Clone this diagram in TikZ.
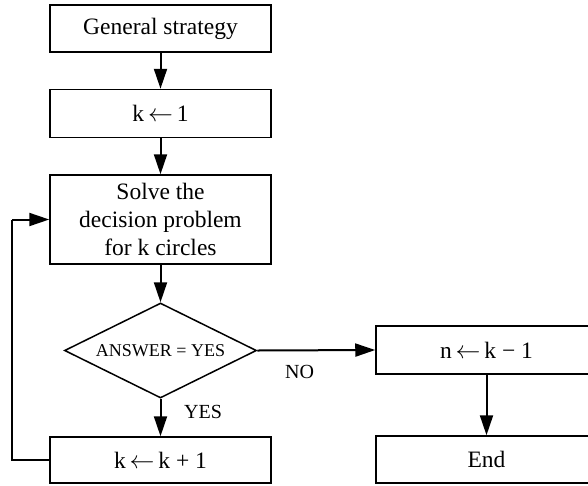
\documentclass[tikz,border=0pt]{standalone}
\usepackage{fontspec}
\setmainfont{Liberation Serif}
\usetikzlibrary{shapes.geometric,arrows.meta}
\tikzset{
  box/.style={draw, line width=1.5pt, minimum width=221pt, inner sep=0pt, align=center,
    font=\fontsize{23.5}{28}\selectfont},
  dec/.style={draw, diamond, line width=1.5pt, aspect=2.02, minimum width=192pt, minimum height=95pt,
    inner sep=0pt, font=\fontsize{18}{21}\selectfont},
  conn/.style={line width=2pt, -{Triangle[length=20pt,width=13pt]}},
  loopline/.style={line width=2pt},
  lbl/.style={font=\fontsize{20}{24}\selectfont, inner sep=0pt}
}
\begin{document}
\begin{tikzpicture}[x=1pt,y=-1pt]
\useasboundingbox (0,0) rectangle (588,485);
\clip (0,0) rectangle (588,485);
\node[box, minimum height=47pt] (b1) at (160.5,28.5) {General strategy};
\node[box, minimum height=48pt] (b2) at (160.5,113.5) {k\,$\leftarrow$\,1};
\node[box, minimum height=89pt] (b3) at (160.5,219.5) {Solve the\\decision problem\\for k circles};
\node[dec] (d) at (160.5,350.5) {ANSWER = YES};
\node[box, minimum height=46pt] (b4) at (160.5,460) {k\,$\leftarrow$\,k + 1};
\node[box, minimum height=48pt] (b5) at (486.5,350) {n\,$\leftarrow$\,k − 1};
\node[box, minimum height=47pt] (b6) at (486.5,459.5) {End};
\coordinate (lb) at (12,460);
\coordinate (lt) at (12,219.5);
\draw[conn] (b1) -- (b2);
\draw[conn] (b2) -- (b3);
\draw[conn] (b3) -- (d);
\draw[conn] (d) -- (b4);
\draw[conn] (d.east) -- (b5.west);
\draw[conn] (b5) -- (b6);
\draw[loopline] (b4.west) -- (lb) -- (lt);
\draw[conn] (lt) -- (b3.west);
\node[lbl] (no) at (299.5,372) {NO};
\node[lbl] (yes) at (203,412) {YES};
\end{tikzpicture}
\end{document}
